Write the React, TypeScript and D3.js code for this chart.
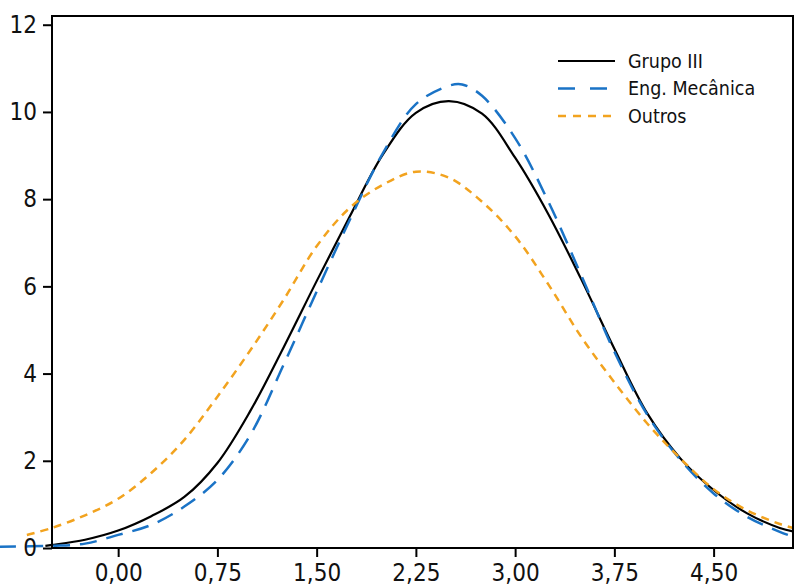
import * as d3 from "d3";
import { useEffect, useRef } from "react";

// densities
const grupoX = [-0.55, -0.5, -0.25, 0, 0.25, 0.5, 0.75, 1.0, 1.25, 1.5, 1.75, 2.0, 2.25, 2.5, 2.75, 3.0, 3.25, 3.5, 3.75, 4.0, 4.25, 4.5, 4.75, 5.0, 5.1];
const grupoY = [0.05, 0.07, 0.19, 0.4, 0.73, 1.17, 1.95, 3.15, 4.6, 6.12, 7.6, 9.02, 9.98, 10.25, 9.96, 8.95, 7.66, 6.16, 4.57, 3.08, 2.05, 1.33, 0.8, 0.46, 0.38];

const engX = [-0.9, -0.5, -0.25, 0, 0.25, 0.5, 0.75, 1.0, 1.25, 1.5, 1.75, 2.0, 2.25, 2.5, 2.6, 2.75, 3.0, 3.25, 3.5, 3.75, 4.0, 4.25, 4.5, 4.75, 5.0, 5.1];
const engY = [0.03, 0.05, 0.1, 0.3, 0.53, 0.95, 1.56, 2.6, 4.2, 5.88, 7.52, 9.05, 10.18, 10.6, 10.63, 10.37, 9.4, 7.95, 6.25, 4.5, 3.05, 2.02, 1.25, 0.72, 0.37, 0.26];

const outrosX = [-0.69, -0.5, -0.25, 0, 0.25, 0.5, 0.75, 1.0, 1.25, 1.5, 1.75, 2.0, 2.25, 2.5, 2.75, 3.0, 3.25, 3.5, 3.75, 4.0, 4.25, 4.5, 4.75, 5.0, 5.1];
const outrosY = [0.3, 0.46, 0.75, 1.13, 1.72, 2.48, 3.47, 4.54, 5.69, 6.92, 7.8, 8.33, 8.63, 8.49, 7.94, 7.15, 6.05, 4.84, 3.8, 2.85, 2.05, 1.35, 0.87, 0.55, 0.46];

const xTicks = [0, 0.75, 1.5, 2.25, 3.0, 3.75, 4.5];
const yTicks = [0, 2, 4, 6, 8, 10, 12];

const series = [
  { name: "Grupo III", xs: grupoX, ys: grupoY, color: "#000000", dash: "none", legendDash: "none", w: 2.2 },
  { name: "Eng. Mecânica", xs: engX, ys: engY, color: "#1a73c6", dash: "17 10", legendDash: "17 15", w: 2.5 },
  { name: "Outros", xs: outrosX, ys: outrosY, color: "#f2a31f", dash: "8 6", legendDash: "8 7", w: 2.5 },
];

const W = 795, H = 586;
const FONT = "'DejaVu Sans Condensed', 'DejaVu Sans', sans-serif";

export default function App() {
  const ref = useRef<SVGSVGElement>(null);

  useEffect(() => {
    const svg = d3.select(ref.current);
    svg.selectAll("*").remove();

    const x = d3.scaleLinear().domain([-0.5, 5.1]).range([52, 793]);
    const y = d3.scaleLinear().domain([0, 12.2]).range([548, 16]);

    // lines (not clipped, like the original)
    const line = d3
      .line<[number, number]>()
      .x((d) => x(d[0]))
      .y((d) => y(d[1]))
      .curve(d3.curveCatmullRom.alpha(0.5));

    series.forEach((s) => {
      const pts = s.xs.map((v, i) => [v, s.ys[i]] as [number, number]);
      svg.append("path")
        .datum(pts)
        .attr("d", line)
        .attr("fill", "none")
        .attr("stroke", s.color)
        .attr("stroke-width", s.w)
        .attr("stroke-dasharray", s.dash);
    });

    // frame
    svg.append("rect")
      .attr("x", 52).attr("y", 16)
      .attr("width", 793 - 52).attr("height", 548 - 16)
      .attr("fill", "none").attr("stroke", "#000").attr("stroke-width", 2);

    // axes
    const xAxis = d3.axisBottom(x).tickValues(xTicks).tickSize(9).tickPadding(4)
      .tickFormat((d) => d3.format(".2f")(d as number).replace(".", ","));
    const gx = svg.append("g").attr("transform", `translate(0, 548)`).call(xAxis);
    gx.select(".domain").remove();
    gx.selectAll("line").attr("stroke-width", 2);
    gx.selectAll("text").attr("font-size", 24).attr("font-family", FONT).attr("fill", "#111").attr("dy", "0.85em");

    const yAxis = d3.axisLeft(y).tickValues(yTicks).tickSize(9).tickPadding(6);
    const gy = svg.append("g").attr("transform", `translate(52, 0)`).call(yAxis);
    gy.select(".domain").remove();
    gy.selectAll("line").attr("stroke-width", 2);
    gy.selectAll("text").attr("font-size", 24).attr("font-family", FONT).attr("fill", "#111");

    // legend
    const lg = svg.append("g");
    series.forEach((s, i) => {
      const ly = 61 + i * 27.5;
      lg.append("line")
        .attr("x1", 558).attr("x2", 615).attr("y1", ly).attr("y2", ly)
        .attr("stroke", s.color).attr("stroke-width", s.w)
        .attr("stroke-dasharray", s.legendDash);
      lg.append("text")
        .attr("x", 628).attr("y", ly).attr("dy", "0.35em")
        .attr("font-size", 19.5).attr("font-family", FONT).attr("fill", "#111")
        .text(s.name);
    });
  }, []);

  return <svg ref={ref} width={W} height={H} style={{ position: "absolute", left: 0, top: 0, background: "#fff" }}></svg>;
}
